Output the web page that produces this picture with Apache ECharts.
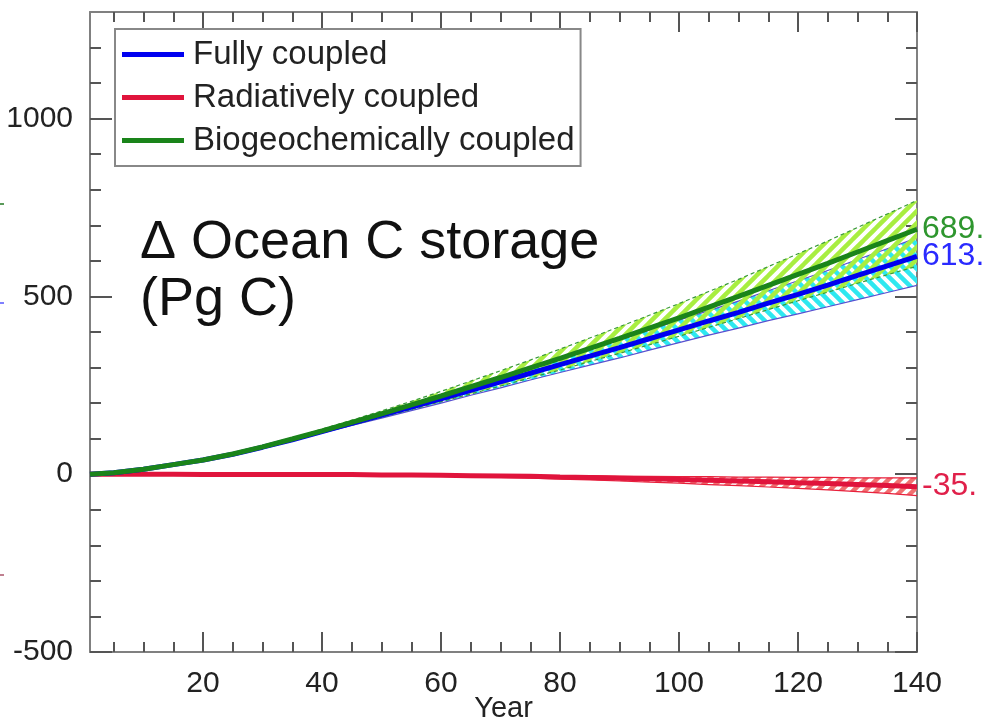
<!DOCTYPE html>
<html>
<head>
<meta charset="utf-8">
<script src="https://cdn.jsdelivr.net/npm/echarts@6/dist/echarts.min.js"></script>
<style>html,body{margin:0;padding:0;background:#fff}#c{width:988px;height:728px}</style>
</head>
<body>
<div id="c"></div>
<script>
// ---- data ----
const years = [1,5,10,15,20,25,30,35,40,45,50,55,60,65,70,75,80,85,90,95,100,105,110,115,120,125,130,135,140];
const fully = [0,4,14,27,40,56,76,97,120,143,166,189,212,236,260,284,308,332,356,381,406,431,455,481,506,532,559,586,613];
const fullyUpper = [0,4,14,28,41,57,78,99,123,147,171,195,220,246,272,298,325,351,378,405,433,460,487,516,544,573,604,634,665];
const fullyLower = [0,4,14,26,39,54,74,94,116,137,158,179,200,222,243,265,286,307,327,349,370,391,411,432,451,471,491,511,531];
const bgc = [0,4,14,27,40,57,77,99,122,146,170,195,220,246,272,299,326,354,382,411,440,470,500,531,562,593,625,657,689];
const bgcUpper = [0,4,14,28,41,59,79,102,127,152,178,205,233,262,291,321,352,383,415,447,480,514,548,584,620,656,694,732,770];
const bgcLower = [0,4,14,26,39,55,74,95,116,138,160,182,204,226,248,271,293,317,340,364,388,413,438,463,488,512,537,561,585];
const rad = [0,0,0,0,-1,-1,-1,-1,-1,-1,-2,-2,-3,-4,-5,-6,-8,-9,-11,-13,-15,-17,-19,-21,-24,-26,-29,-32,-35];
const radUpper = [0,0,0,0,-1,-1,-1,-1,-1,-1,-1,-1,-1,-2,-2,-3,-4,-4,-5,-6,-7,-7,-8,-8,-9,-9,-10,-10,-10];
const radLower = [0,0,0,0,-1,-1,-1,-1,-1,-2,-3,-4,-5,-7,-9,-11,-14,-16,-19,-22,-25,-29,-32,-36,-40,-44,-49,-54,-60];
const seriesNames = ['Fully coupled','Radiatively coupled','Biogeochemically coupled'];
const xMajor = [20,40,60,80,100,120,140];
const xMinor = [5,10,15,25,30,35,45,50,55,65,70,75,85,90,95,105,110,115,125,130,135];
const yMajor = [-500,0,500,1000];
const yMinor = [-400,-300,-200,-100,100,200,300,400,600,700,800,900,1100,1200];

// ---- helpers ----
const FONT = 'Liberation Sans, Arial, Helvetica, sans-serif';
function pts(v){ return years.map((y,i)=>[y, v[i]]); }
function hatch(color, dir){
  const s = 12, c = document.createElement('canvas');
  c.width = s; c.height = s;
  const g = c.getContext('2d');
  g.strokeStyle = color; g.lineWidth = 4.5; g.lineCap = 'square';
  g.beginPath();
  for (let k=-1;k<=1;k++){
    if (dir === '/') { g.moveTo(k*s, s); g.lineTo(k*s+s, 0); }
    else { g.moveTo(k*s, 0); g.lineTo(k*s+s, s); }
  }
  g.stroke();
  return c;
}
function band(name, lower, upper, edgeColor, fillCanvas, dash){
  return {
    name, type:'custom', silent:true, z:1, clip:true,
    data: years.map((y,i)=>[y, upper[i], lower[i]]),
    encode:{x:0, y:[1,2]},
    renderItem: function(params, api){
      if (params.dataIndex !== 0) return null;
      const up = years.map((y,i)=>api.coord([y, upper[i]]));
      const lo = years.map((y,i)=>api.coord([y, lower[i]]));
      const poly = up.concat(lo.slice().reverse());
      const edge = {stroke:edgeColor, lineWidth:1.2, fill:null, lineDash: dash ? [4,3] : null};
      return { type:'group', children:[
        { type:'polygon', shape:{points: poly}, style:{ fill:{image: fillCanvas, repeat:'repeat'}, stroke:null } },
        { type:'polyline', shape:{points: up}, style: edge },
        { type:'polyline', shape:{points: lo}, style: edge }
      ]};
    }
  };
}
function mainLine(name, v, color, lblColor){
  return { name, type:'line', data: pts(v), symbol:'none', color, z:3,
    lineStyle:{color, width:5},
    endLabel:{ show:true, formatter: p => p.value[1] + '.', color: lblColor, fontSize: 32, fontFamily: FONT, distance: 5 } };
}
const axLine = {show:true, onZero:false, lineStyle:{color:'#808080', width:2}};
const tickStyle = {color:'#555', width:2};
function xAx(pos, vals, len, labels, extra){
  return Object.assign({ type:'value', min:1, max:140, position:pos, gridIndex:0,
    axisLine: labels!==null ? axLine : {show:false, onZero:false},
    splitLine:{show:false},
    axisTick:{show:true, inside:true, length:len, customValues: vals, lineStyle: tickStyle},
    axisLabel: labels ? {show:true, customValues: vals, fontSize:30, color:'#222', fontFamily:FONT, margin:17, formatter: v => String(v)} : {show:false}
  }, extra||{});
}
function yAx(pos, vals, len, labels){
  return { type:'value', min:-500, max:1300, position:pos, gridIndex:0,
    axisLine: labels!==null ? axLine : {show:false, onZero:false},
    splitLine:{show:false},
    axisTick:{show:true, inside:true, length:len, customValues: vals, lineStyle: tickStyle},
    axisLabel: labels ? {show:true, customValues: vals, fontSize:30, color:'#222', fontFamily:FONT, margin:17, formatter: v => String(v)} : {show:false}
  };
}

const chart = echarts.init(document.getElementById('c'), null, {renderer:'canvas'});
chart.setOption({
  animation:false,
  backgroundColor:'#fff',
  grid:{left:90, right:71, top:12, bottom:76, containLabel:false, outerBoundsMode:'none'},
  xAxis:[
    xAx('bottom', xMajor, 20, true, {name:'Year', nameLocation:'middle', nameGap:57, nameMoveOverlap:false, nameTextStyle:{fontSize:29, color:'#222', fontFamily:FONT, verticalAlign:'middle'}}),
    xAx('bottom', xMinor, 10, null),
    xAx('top', xMajor, 20, false),
    xAx('top', xMinor, 10, null)
  ],
  yAxis:[
    yAx('left', yMajor, 22, true),
    yAx('left', yMinor, 11, null),
    yAx('right', yMajor, 22, false),
    yAx('right', yMinor, 11, null)
  ],
  legend:{
    data: seriesNames, orient:'vertical', left:115, top:29,
    icon:'rect', itemWidth:62, itemHeight:5, itemGap:10,
    padding:[9,6,9,7],
    borderColor:'#888', borderWidth:2, backgroundColor:'#fff',
    textStyle:{fontSize:33, color:'#222', fontFamily:FONT, padding:[0,0,0,4]}
  },
  graphic:[
    {type:'text', left:140, top:216, style:{text:'\u0394 Ocean C storage', fontSize:54, fontFamily:FONT, fill:'#111'}},
    {type:'text', left:140, top:273, style:{text:'(Pg C)', fontSize:54, fontFamily:FONT, fill:'#111'}},
    {type:'rect', shape:{x:0, y:203, width:4, height:2}, style:{fill:'#5a9a5a'}},
    {type:'rect', shape:{x:0, y:302, width:4, height:2}, style:{fill:'#8080ff'}},
    {type:'rect', shape:{x:0, y:574, width:4, height:2}, style:{fill:'#c08090'}}
  ],
  series:[
    band('cyanBand', fullyLower, fullyUpper, '#5a4fd0', hatch('#2ee8f0','\\'), false),
    band('greenBand', bgcLower, bgcUpper, '#3a9a3a', hatch('#a8ee40','/'), true),
    band('redBand', radLower, radUpper, '#e8203c', hatch('#f07070','/'), false),
    mainLine('Radiatively coupled', rad, '#e0143c', '#e0204a'),
    mainLine('Fully coupled', fully, '#0000f0', '#2a2aff'),
    mainLine('Biogeochemically coupled', bgc, '#1a841a', '#2e962e')
  ]
});
</script>
</body>
</html>
